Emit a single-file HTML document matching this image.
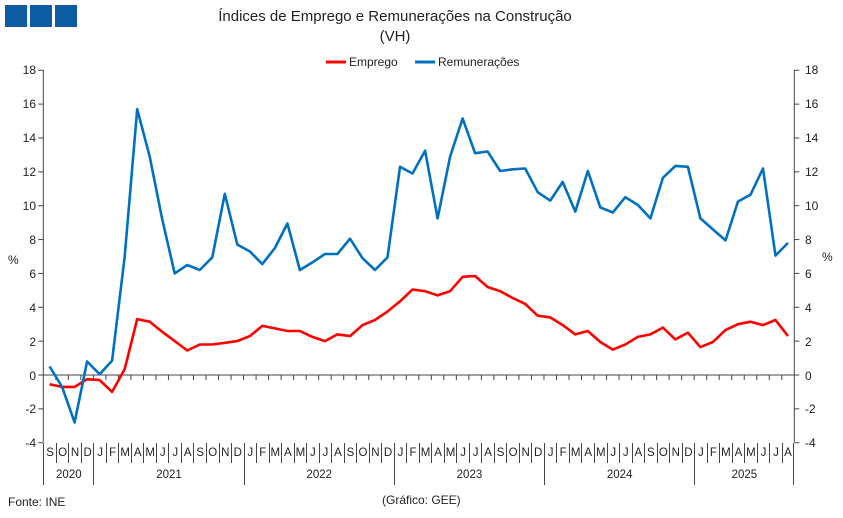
<!DOCTYPE html>
<html><head><meta charset="utf-8"><style>
body{margin:0;background:#fff;font-family:"Liberation Sans",sans-serif;}
#w{position:relative;width:843px;height:518px;overflow:hidden;background:#fff}
.t{position:absolute;white-space:nowrap;color:#222}
.row{position:absolute;display:flex;font-size:11.5px;color:#222}
.row span{text-align:center;box-sizing:border-box;border-left:1px solid #444;height:20px;line-height:20px;overflow:hidden}
.yr span{height:42px;line-height:20px;padding-top:22px;border-left:1px solid #444}
</style></head><body><div id="w">
<div style="position:absolute;left:5px;top:5px;width:22px;height:22px;background:#0d5ca4"></div>
<div style="position:absolute;left:30px;top:5px;width:22px;height:22px;background:#0d5ca4"></div>
<div style="position:absolute;left:55px;top:5px;width:22px;height:22px;background:#0d5ca4"></div>
<div class="t" style="left:0;width:790px;text-align:center;top:8px;font-size:15px">Índices de Emprego e Remunerações na Construção</div>
<div class="t" style="left:0;width:790px;text-align:center;top:28px;font-size:15px">(VH)</div>
<div class="t" style="left:349px;top:55px;font-size:12px">Emprego</div>
<div class="t" style="left:438px;top:55px;font-size:12px">Remunerações</div>
<div class="t" style="left:8px;top:253px;font-size:12px">%</div>
<div class="t" style="left:822px;top:250px;font-size:12px">%</div>
<div class="t" style="left:8px;top:495px;font-size:12px">Fonte: INE</div>
<div class="t" style="left:382px;top:493px;font-size:12px">(Gráfico: GEE)</div>
<svg id="s" width="843" height="518" style="position:absolute;left:0;top:0">
<line x1="326" y1="62" x2="346" y2="62" stroke="#f00" stroke-width="3"/>
<line x1="415" y1="62" x2="435" y2="62" stroke="#0070c0" stroke-width="3"/>
<g font-size="12" fill="#222" font-family="Liberation Sans">
<text x="36" y="74" text-anchor="end">18</text><text x="36" y="108" text-anchor="end">16</text><text x="36" y="142" text-anchor="end">14</text><text x="36" y="176" text-anchor="end">12</text><text x="36" y="210" text-anchor="end">10</text><text x="36" y="244" text-anchor="end">8</text><text x="36" y="278" text-anchor="end">6</text><text x="36" y="312" text-anchor="end">4</text><text x="36" y="346" text-anchor="end">2</text><text x="36" y="380" text-anchor="end">0</text><text x="36" y="413" text-anchor="end">-2</text><text x="36" y="447" text-anchor="end">-4</text>
<text x="805" y="74">18</text><text x="805" y="108">16</text><text x="805" y="142">14</text><text x="805" y="176">12</text><text x="805" y="210">10</text><text x="805" y="244">8</text><text x="805" y="278">6</text><text x="805" y="312">4</text><text x="805" y="346">2</text><text x="805" y="380">0</text><text x="805" y="413">-2</text><text x="805" y="447">-4</text>
</g>
</svg>
<div class="row" style="left:43.3px;top:443px"><span style="width:12.52px">S</span><span style="width:12.52px">O</span><span style="width:12.52px">N</span><span style="width:12.52px">D</span><span style="width:12.52px">J</span><span style="width:12.52px">F</span><span style="width:12.52px">M</span><span style="width:12.52px">A</span><span style="width:12.52px">M</span><span style="width:12.52px">J</span><span style="width:12.52px">J</span><span style="width:12.52px">A</span><span style="width:12.52px">S</span><span style="width:12.52px">O</span><span style="width:12.52px">N</span><span style="width:12.52px">D</span><span style="width:12.52px">J</span><span style="width:12.52px">F</span><span style="width:12.52px">M</span><span style="width:12.52px">A</span><span style="width:12.52px">M</span><span style="width:12.52px">J</span><span style="width:12.52px">J</span><span style="width:12.52px">A</span><span style="width:12.52px">S</span><span style="width:12.52px">O</span><span style="width:12.52px">N</span><span style="width:12.52px">D</span><span style="width:12.52px">J</span><span style="width:12.52px">F</span><span style="width:12.52px">M</span><span style="width:12.52px">A</span><span style="width:12.52px">M</span><span style="width:12.52px">J</span><span style="width:12.52px">J</span><span style="width:12.52px">A</span><span style="width:12.52px">S</span><span style="width:12.52px">O</span><span style="width:12.52px">N</span><span style="width:12.52px">D</span><span style="width:12.52px">J</span><span style="width:12.52px">F</span><span style="width:12.52px">M</span><span style="width:12.52px">A</span><span style="width:12.52px">M</span><span style="width:12.52px">J</span><span style="width:12.52px">J</span><span style="width:12.52px">A</span><span style="width:12.52px">S</span><span style="width:12.52px">O</span><span style="width:12.52px">N</span><span style="width:12.52px">D</span><span style="width:12.52px">J</span><span style="width:12.52px">F</span><span style="width:12.52px">M</span><span style="width:12.52px">A</span><span style="width:12.52px">M</span><span style="width:12.52px">J</span><span style="width:12.52px">J</span><span style="width:12.52px;border-right:1px solid #444">A</span></div>
<div class="row yr" style="left:43.3px;top:443px"><span style="width:50.08px">2020</span><span style="width:150.24px">2021</span><span style="width:150.24px">2022</span><span style="width:150.24px">2023</span><span style="width:150.24px">2024</span><span style="width:100.16px;border-right:1px solid #444">2025</span></div>
<script>
var s=document.getElementById('s'),NS='http://www.w3.org/2000/svg';
var L=43.3,R=794.3,dx=(R-L)/60;function Y(v){return 375-v*16.93}
function ln(a,b,c,d,col,w){var e=document.createElementNS(NS,'line');e.setAttribute('x1',a);e.setAttribute('y1',b);e.setAttribute('x2',c);e.setAttribute('y2',d);e.setAttribute('stroke',col);e.setAttribute('stroke-width',w||1);s.appendChild(e)}
ln(L,70,L,442,'#444');ln(R,70,R,442,'#444');ln(L,375,R,375,'#444');
for(var v=-4;v<=18;v+=2){ln(L-5,Y(v),L,Y(v),'#444');ln(R,Y(v),R+5,Y(v),'#444')}
for(var i=1;i<60;i++)ln(L+i*dx,375,L+i*dx,380,'#444');
function pl(d,col){var p=d.map(function(v,i){return (L+dx*(i+.5)).toFixed(1)+','+Y(v).toFixed(1)}).join(' ');var e=document.createElementNS(NS,'polyline');e.setAttribute('points',p);e.setAttribute('fill','none');e.setAttribute('stroke',col);e.setAttribute('stroke-width',2.6);e.setAttribute('stroke-linejoin','round');s.appendChild(e)}
pl([-0.55,-0.7,-0.7,-0.25,-0.3,-1.0,0.35,3.3,3.15,2.55,2.0,1.45,1.8,1.8,1.9,2.0,2.3,2.9,2.75,2.6,2.6,2.25,2.0,2.4,2.3,2.95,3.25,3.75,4.35,5.05,4.95,4.7,4.95,5.8,5.85,5.2,4.95,4.55,4.2,3.5,3.4,2.95,2.4,2.6,1.95,1.5,1.8,2.25,2.4,2.8,2.1,2.5,1.65,1.95,2.65,3.0,3.15,2.95,3.25,2.3],'#f00');
pl([0.5,-0.7,-2.8,0.8,0.05,0.85,7,15.7,12.9,9.2,6.0,6.5,6.2,6.95,10.7,7.7,7.3,6.55,7.5,8.95,6.2,6.65,7.15,7.15,8.05,6.9,6.2,6.95,12.3,11.9,13.25,9.25,12.9,15.15,13.1,13.2,12.05,12.15,12.2,10.8,10.3,11.4,9.65,12.05,9.9,9.6,10.5,10.05,9.25,11.65,12.35,12.3,9.25,8.6,7.95,10.25,10.65,12.2,7.05,7.8],'#0070c0');
</script>
</div></body></html>
